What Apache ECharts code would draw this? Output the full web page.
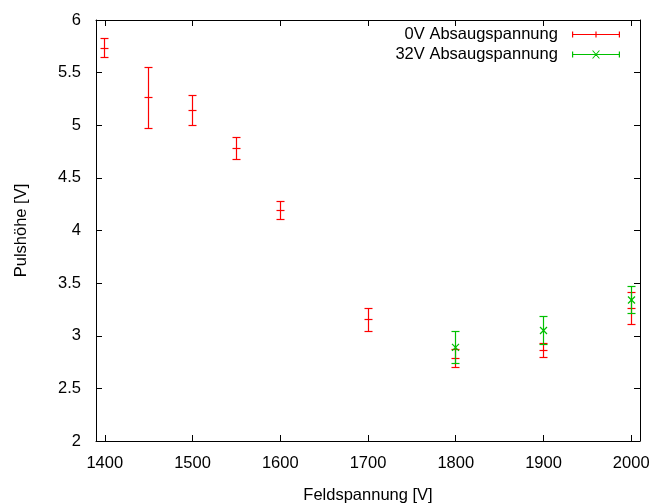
<!DOCTYPE html>
<html><head><meta charset="utf-8">
<script src="https://cdn.jsdelivr.net/npm/echarts@6/dist/echarts.min.js"></script>
<style>html,body{margin:0;padding:0;background:#fff}#c{width:651px;height:504px}</style>
</head><body><div id="c"></div>
<script>
// Data
const xTicks = [1400, 1500, 1600, 1700, 1800, 1900, 2000];
const yTicks = [2, 2.5, 3, 3.5, 4, 4.5, 5, 5.5, 6];
const voltage0 = [1400, 1450, 1500, 1550, 1600, 1700, 1800, 1900, 2000];
const pulse0 = [5.73, 5.26, 5.14, 4.78, 4.19, 3.15, 2.785, 2.86, 3.26];
const err0 = [0.09, 0.29, 0.14, 0.105, 0.09, 0.11, 0.085, 0.065, 0.15];
const voltage32 = [1800, 1900, 2000];
const pulse32 = [2.89, 3.05, 3.34];
const err32 = [0.15, 0.13, 0.13];
const seriesNames = ['0V Absaugspannung', '32V Absaugspannung'];
const RED = '#ff0000', GREEN = '#00c000';

function build(xs, ys, es) { return xs.map((x, i) => [x, ys[i], es[i]]); }
const snap = v => Math.round(v - 0.5) + 0.5;

function errRender(color, mark) {
  return function (params, api) {
    const x = api.value(0), y = api.value(1), e = api.value(2);
    const pc = api.coord([x, y]), pt = api.coord([x, y + e]), pb = api.coord([x, y - e]);
    const cx = snap(pc[0]), cy = snap(pc[1]), ty = snap(pt[1]), by = snap(pb[1]);
    const cap = 4, ln = { stroke: color, lineWidth: 1.2 };
    const ch = [
      { type: 'line', shape: { x1: cx, y1: ty, x2: cx, y2: by }, style: ln },
      { type: 'line', shape: { x1: cx - cap, y1: ty, x2: cx + cap, y2: ty }, style: ln },
      { type: 'line', shape: { x1: cx - cap, y1: by, x2: cx + cap, y2: by }, style: ln }
    ];
    if (mark === '+') {
      ch.push({ type: 'line', shape: { x1: cx - 4, y1: cy, x2: cx + 4, y2: cy }, style: ln });
    } else {
      ch.push({ type: 'line', shape: { x1: cx - 3.5, y1: pc[1] - 3.5, x2: cx + 3.5, y2: pc[1] + 3.5 }, style: ln });
      ch.push({ type: 'line', shape: { x1: cx - 3.5, y1: pc[1] + 3.5, x2: cx + 3.5, y2: pc[1] - 3.5 }, style: ln });
    }
    return { type: 'group', children: ch };
  };
}

const iconPlus = 'path://M0,3.5 L48,3.5 L48,4.5 L0,4.5 Z M0,1 L1.2,1 L1.2,7 L0,7 Z M46.8,1 L48,1 L48,7 L46.8,7 Z M23.4,1 L24.6,1 L24.6,7 L23.4,7 Z M0,0 L0.01,0 L0.01,8 L0,8 Z';
const iconX = 'path://M0,3.5 L48,3.5 L48,4.5 L0,4.5 Z M0,1 L1.2,1 L1.2,7 L0,7 Z M46.8,1 L48,1 L48,7 L46.8,7 Z M20,0 L21.2,0 L28,8 L26.8,8 Z M26.8,0 L28,0 L21.2,8 L20,8 Z';

const FONT = 'Liberation Sans';
const FS = 16.5;
const axisCommon = {
  axisLine: { show: true, lineStyle: { color: '#000', width: 1 } },
  axisTick: { show: true, inside: true, length: 6, lineStyle: { color: '#000' } },
  splitLine: { show: false }
};

const chart = echarts.init(document.getElementById('c'), null, { renderer: 'canvas' });
chart.setOption({
  backgroundColor: '#fff',
  animation: false,
  textStyle: { fontFamily: FONT },
  grid: { left: 96, top: 20, right: 11, bottom: 63, containLabel: false, outerBoundsMode: 'none' },
  legend: {
    right: 31, top: 26, padding: 0, orient: 'vertical', align: 'right',
    itemWidth: 48, itemHeight: 8, itemGap: 3,
    formatter: n => n + '  ',
    itemStyle: { borderWidth: 0 },
    textStyle: { fontFamily: FONT, fontSize: FS, color: '#000' },
    data: [
      { name: seriesNames[0], icon: iconPlus, itemStyle: { color: RED, borderColor: RED, borderWidth: 0 } },
      { name: seriesNames[1], icon: iconX, itemStyle: { color: GREEN, borderColor: GREEN, borderWidth: 0 } }
    ],
    selectedMode: false
  },
  xAxis: [
    Object.assign({}, axisCommon, {
      type: 'value', min: 1390, max: 2010, position: 'bottom',
      name: 'Feldspannung [V]', nameLocation: 'middle', nameGap: 46,
      nameTextStyle: { fontFamily: FONT, fontSize: FS, color: '#000' },
      axisTick: Object.assign({}, axisCommon.axisTick, { customValues: xTicks }),
      axisLabel: { customValues: xTicks, margin: 14, fontFamily: FONT, fontSize: FS, color: '#000',
        formatter: v => String(v) }
    }),
    Object.assign({}, axisCommon, {
      type: 'value', min: 1390, max: 2010, position: 'top',
      axisTick: Object.assign({}, axisCommon.axisTick, { customValues: xTicks }),
      axisLabel: { show: false }
    })
  ],
  yAxis: [
    Object.assign({}, axisCommon, {
      type: 'value', min: 2, max: 6, interval: 0.5, position: 'left',
      name: 'Pulshöhe [V]', nameLocation: 'middle', nameGap: 66, nameRotate: 90,
      nameTextStyle: { fontFamily: FONT, fontSize: FS, color: '#000' },
      axisLabel: { margin: 15, fontFamily: FONT, fontSize: FS, color: '#000',
        formatter: v => String(v) }
    }),
    Object.assign({}, axisCommon, {
      type: 'value', min: 2, max: 6, interval: 0.5, position: 'right',
      axisLabel: { show: false }
    })
  ],
  series: [
    { name: seriesNames[0], type: 'custom', xAxisIndex: 0, yAxisIndex: 0,
      itemStyle: { color: RED }, renderItem: errRender(RED, '+'),
      encode: { x: 0, y: [1] }, data: build(voltage0, pulse0, err0), z: 2 },
    { name: seriesNames[1], type: 'custom', xAxisIndex: 0, yAxisIndex: 0,
      itemStyle: { color: GREEN }, renderItem: errRender(GREEN, 'x'),
      encode: { x: 0, y: [1] }, data: build(voltage32, pulse32, err32), z: 3 }
  ]
});
</script></body></html>
